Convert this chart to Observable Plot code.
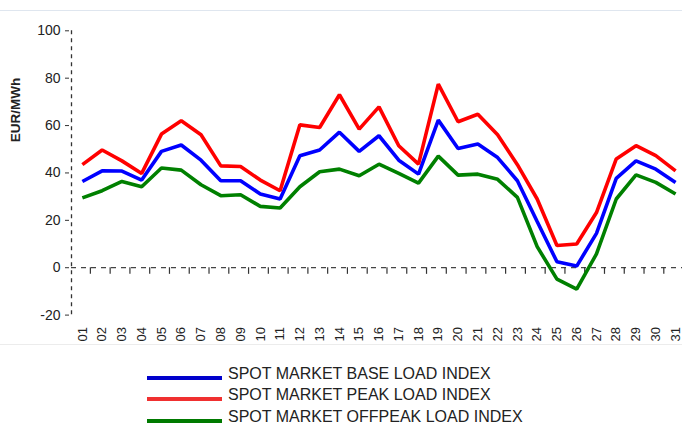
<!DOCTYPE html>
<html>
<head>
<meta charset="utf-8">
<script src="https://cdn.jsdelivr.net/npm/d3@7"></script>
<script src="https://cdn.jsdelivr.net/npm/@observablehq/plot@0.6"></script>
<style>
  html, body { margin: 0; padding: 0; background: #fff; }
  body { width: 682px; height: 424px; position: relative; overflow: hidden; font-family: "Liberation Sans", Arial, sans-serif; color: #222; }
  #topline { position: absolute; left: 0; top: 10px; width: 682px; height: 1px; background: #dfe6ef; }
  #chart { position: absolute; left: 0; top: 11px; }
  #botline { position: absolute; left: 0; top: 344px; width: 682px; height: 1px; background: #ececec; }
  #ylabel { position: absolute; left: 15px; top: 110px; transform: translate(-50%, -50%) rotate(-90deg); font-weight: bold; font-size: 13.5px; white-space: nowrap; color: #222; }
  .leg { position: absolute; left: 147px; height: 21.4px; }
  .sw { position: absolute; left: 0; width: 75px; height: 4px; }
  .lt { position: absolute; left: 81px; top: 0; font-size: 16px; line-height: 21.4px; white-space: nowrap; color: #222; }
</style>
</head>
<body>
<div id="topline"></div>
<div id="chart"></div>
<div id="botline"></div>
<div id="ylabel">EUR/MWh</div>
<div id="legend"></div>
<script>
const dayLabels = ["01","02","03","04","05","06","07","08","09","10","11","12","13","14","15","16","17","18","19","20","21","22","23","24","25","26","27","28","29","30","31"];
const days = [1,2,3,4,5,6,7,8,9,10,11,12,13,14,15,16,17,18,19,20,21,22,23,24,25,26,27,28,29,30,31];
const baseLoad = [36.4,40.9,40.8,37.0,49.1,51.8,45.4,36.7,36.7,31.1,29.0,47.3,49.7,57.2,49.1,55.7,45.4,39.5,62.3,50.3,52.2,46.5,36.7,19.5,2.5,0.7,14.5,37.7,45.1,41.6,36.0];
const peakLoad = [43.5,49.7,45.1,39.8,56.4,62.0,56.1,43.0,42.7,37.0,32.5,60.3,59.2,73.0,58.5,67.9,51.5,43.7,77.5,61.6,64.8,56.1,43.5,29.0,9.4,10.0,23.3,45.9,51.5,47.3,40.9];
const offpeakLoad = [29.5,32.5,36.4,34.2,42.1,41.2,35.0,30.4,30.8,25.9,25.2,34.2,40.5,41.6,38.8,43.7,39.8,35.7,47.1,39.1,39.5,37.3,29.7,8.9,-4.8,-9.0,5.8,29.0,39.2,36.0,31.1];
const seriesNames = ["SPOT MARKET BASE LOAD INDEX","SPOT MARKET PEAK LOAD INDEX","SPOT MARKET OFFPEAK LOAD INDEX"];
const seriesColors = ["#0000ff","#ff0000","#008000"];
const legendColors = ["#0000cc","#f03030","#007a00"];
const yTicks = [-20,0,20,40,60,80,100];
const xDomain = [0.45, 31.35];
const yDomain = [-20, 100];

const allSeries = [baseLoad, peakLoad, offpeakLoad];
const rows = [];
allSeries.forEach((vals, s) => vals.forEach((v, i) => rows.push({series: seriesNames[s], day: days[i], value: v})));

const chart = Plot.plot({
  width: 682,
  height: 333,
  marginLeft: 71,
  marginRight: 0,
  marginTop: 19.3,
  marginBottom: 29.4,
  style: {fontFamily: "'Liberation Sans', Arial, sans-serif", color: "#222", background: "transparent"},
  x: {domain: xDomain, label: null},
  y: {domain: yDomain, label: null},
  color: {domain: seriesNames, range: seriesColors},
  marks: [
    Plot.ruleX([xDomain[0]], {stroke: "#333", strokeWidth: 1.3, strokeDasharray: "4,4"}),
    Plot.ruleY([0], {stroke: "#444", strokeWidth: 1.3, strokeDasharray: "5,5"}),
    Plot.ruleX(days.slice(0, 30), {x: d => d, y1: 0, y2: -2.8, dx: 8, stroke: "#333", strokeWidth: 1.2}),
    Plot.axisY({ticks: yTicks, tickFormat: d => String(d), tickSize: 4, tickPadding: 5, dx: -2, fontSize: 14, label: null, stroke: "#333"}),
    Plot.axisX({ticks: days, tickFormat: d => dayLabels[d - 1], tickRotate: -90, tickSize: 0, tickPadding: 12, fontSize: 13, label: null}),
    Plot.line(rows, {x: "day", y: "value", z: "series", stroke: "series", strokeWidth: 3.6, strokeLinejoin: "miter", strokeLinecap: "butt"})
  ]
});
document.getElementById("chart").appendChild(chart);

const legend = document.getElementById("legend");
seriesNames.forEach((name, i) => {
  const row = document.createElement("div");
  row.className = "leg";
  row.style.top = (362.8 + i * 21.4) + "px";
  const sw = document.createElement("div");
  sw.className = "sw";
  sw.style.top = "13px";
  sw.style.background = legendColors[i];
  const t = document.createElement("div");
  t.className = "lt";
  t.textContent = name;
  row.appendChild(sw);
  row.appendChild(t);
  legend.appendChild(row);
});
</script>
</body>
</html>
